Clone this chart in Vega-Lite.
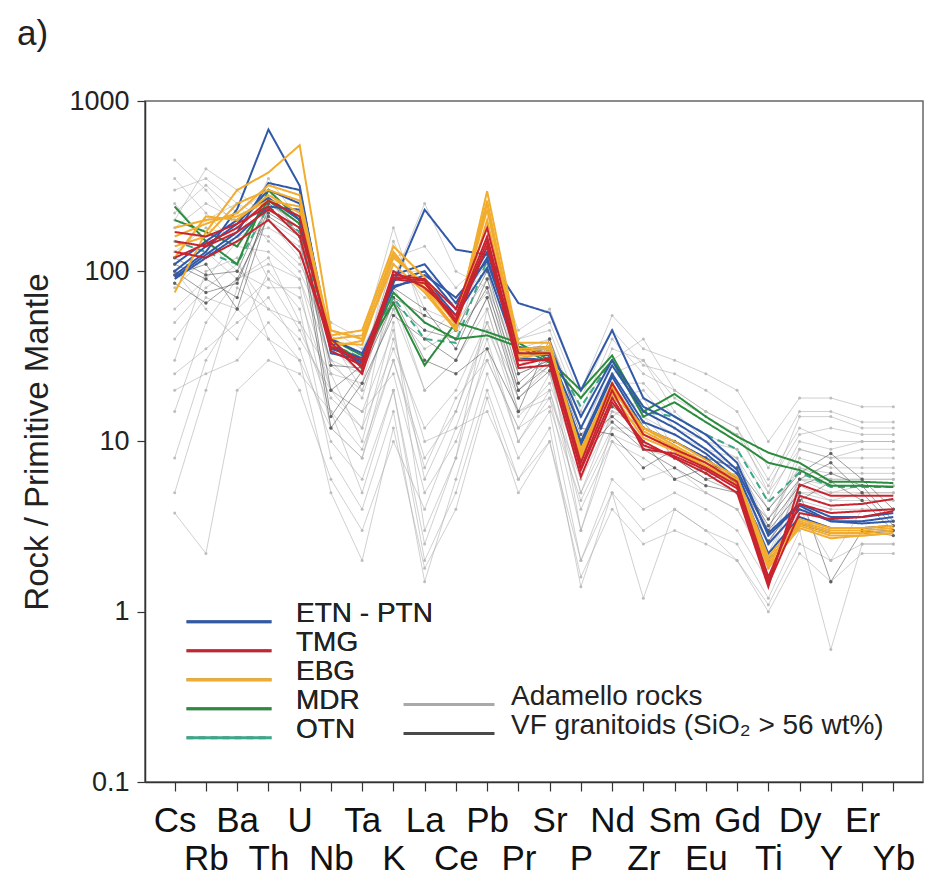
{
"$schema": "https://vega.github.io/schema/vega-lite/v6.json",
"autosize": "none",
"width": 778,
"height": 681,
"padding": {"left": 145, "top": 101, "right": 7, "bottom": 101},
"background": "white",
"config": {
  "font": "Liberation Sans",
  "view": {"stroke": "#666666", "strokeWidth": 1.5},
  "axis": {"grid": false, "domainColor": "#333333", "domainWidth": 1.5, "tickColor": "#333333", "tickWidth": 1.2, "labelColor": "#222222", "labelFont": "Liberation Sans", "titleFont": "Liberation Sans", "titleColor": "#222222", "titleFontWeight": "normal"},
  "legend": {"labelFont": "Liberation Sans", "labelColor": "#222222"}
},
"title": {"text": "a)", "anchor": "start", "frame": "group", "fontSize": 35, "fontWeight": "normal", "color": "#222222", "dx": -128, "offset": 35},
"data": {"values": [
{"g":"A","s":"A1","e":"Cs","v":300},{"g":"A","s":"A1","e":"Rb","v":350},{"g":"A","s":"A1","e":"Ba","v":250},{"g":"A","s":"A1","e":"Th","v":150},{"g":"A","s":"A1","e":"U","v":100},{"g":"A","s":"A1","e":"Nb","v":40},{"g":"A","s":"A1","e":"Ta","v":20},{"g":"A","s":"A1","e":"K","v":60},{"g":"A","s":"A1","e":"La","v":20},{"g":"A","s":"A1","e":"Ce","v":30},{"g":"A","s":"A1","e":"Pb","v":70},{"g":"A","s":"A1","e":"Pr","v":20},{"g":"A","s":"A1","e":"Sr","v":30},{"g":"A","s":"A1","e":"P","v":8},{"g":"A","s":"A1","e":"Nd","v":20},{"g":"A","s":"A1","e":"Zr","v":15},{"g":"A","s":"A1","e":"Sm","v":12},{"g":"A","s":"A1","e":"Eu","v":9},{"g":"A","s":"A1","e":"Gd","v":8},{"g":"A","s":"A1","e":"Ti","v":4},{"g":"A","s":"A1","e":"Dy","v":7},{"g":"A","s":"A1","e":"Y","v":6},{"g":"A","s":"A1","e":"Er","v":6},{"g":"A","s":"A1","e":"Yb","v":6},
{"g":"A","s":"A2","e":"Cs","v":30},{"g":"A","s":"A2","e":"Rb","v":100},{"g":"A","s":"A2","e":"Ba","v":120},{"g":"A","s":"A2","e":"Th","v":40},{"g":"A","s":"A2","e":"U","v":30},{"g":"A","s":"A2","e":"Nb","v":12},{"g":"A","s":"A2","e":"Ta","v":8},{"g":"A","s":"A2","e":"K","v":40},{"g":"A","s":"A2","e":"La","v":10},{"g":"A","s":"A2","e":"Ce","v":12},{"g":"A","s":"A2","e":"Pb","v":40},{"g":"A","s":"A2","e":"Pr","v":10},{"g":"A","s":"A2","e":"Sr","v":20},{"g":"A","s":"A2","e":"P","v":4},{"g":"A","s":"A2","e":"Nd","v":10},{"g":"A","s":"A2","e":"Zr","v":8},{"g":"A","s":"A2","e":"Sm","v":6},{"g":"A","s":"A2","e":"Eu","v":5},{"g":"A","s":"A2","e":"Gd","v":4},{"g":"A","s":"A2","e":"Ti","v":2},{"g":"A","s":"A2","e":"Dy","v":5},{"g":"A","s":"A2","e":"Y","v":5},{"g":"A","s":"A2","e":"Er","v":5},{"g":"A","s":"A2","e":"Yb","v":5},
{"g":"A","s":"A3","e":"Cs","v":5},{"g":"A","s":"A3","e":"Rb","v":20},{"g":"A","s":"A3","e":"Ba","v":80},{"g":"A","s":"A3","e":"Th","v":60},{"g":"A","s":"A3","e":"U","v":40},{"g":"A","s":"A3","e":"Nb","v":20},{"g":"A","s":"A3","e":"Ta","v":15},{"g":"A","s":"A3","e":"K","v":25},{"g":"A","s":"A3","e":"La","v":5},{"g":"A","s":"A3","e":"Ce","v":10},{"g":"A","s":"A3","e":"Pb","v":30},{"g":"A","s":"A3","e":"Pr","v":12},{"g":"A","s":"A3","e":"Sr","v":25},{"g":"A","s":"A3","e":"P","v":5},{"g":"A","s":"A3","e":"Nd","v":12},{"g":"A","s":"A3","e":"Zr","v":10},{"g":"A","s":"A3","e":"Sm","v":8},{"g":"A","s":"A3","e":"Eu","v":6},{"g":"A","s":"A3","e":"Gd","v":5},{"g":"A","s":"A3","e":"Ti","v":2.5},{"g":"A","s":"A3","e":"Dy","v":5},{"g":"A","s":"A3","e":"Y","v":4.5},{"g":"A","s":"A3","e":"Er","v":4.5},{"g":"A","s":"A3","e":"Yb","v":4.5},
{"g":"A","s":"A4","e":"Cs","v":200},{"g":"A","s":"A4","e":"Rb","v":400},{"g":"A","s":"A4","e":"Ba","v":300},{"g":"A","s":"A4","e":"Th","v":200},{"g":"A","s":"A4","e":"U","v":150},{"g":"A","s":"A4","e":"Nb","v":35},{"g":"A","s":"A4","e":"Ta","v":25},{"g":"A","s":"A4","e":"K","v":150},{"g":"A","s":"A4","e":"La","v":60},{"g":"A","s":"A4","e":"Ce","v":50},{"g":"A","s":"A4","e":"Pb","v":90},{"g":"A","s":"A4","e":"Pr","v":30},{"g":"A","s":"A4","e":"Sr","v":40},{"g":"A","s":"A4","e":"P","v":12},{"g":"A","s":"A4","e":"Nd","v":25},{"g":"A","s":"A4","e":"Zr","v":30},{"g":"A","s":"A4","e":"Sm","v":15},{"g":"A","s":"A4","e":"Eu","v":10},{"g":"A","s":"A4","e":"Gd","v":9},{"g":"A","s":"A4","e":"Ti","v":5},{"g":"A","s":"A4","e":"Dy","v":9},{"g":"A","s":"A4","e":"Y","v":8},{"g":"A","s":"A4","e":"Er","v":8},{"g":"A","s":"A4","e":"Yb","v":8},
{"g":"A","s":"A5","e":"Cs","v":100},{"g":"A","s":"A5","e":"Rb","v":60},{"g":"A","s":"A5","e":"Ba","v":40},{"g":"A","s":"A5","e":"Th","v":100},{"g":"A","s":"A5","e":"U","v":60},{"g":"A","s":"A5","e":"Nb","v":8},{"g":"A","s":"A5","e":"Ta","v":4},{"g":"A","s":"A5","e":"K","v":15},{"g":"A","s":"A5","e":"La","v":1.5},{"g":"A","s":"A5","e":"Ce","v":6},{"g":"A","s":"A5","e":"Pb","v":25},{"g":"A","s":"A5","e":"Pr","v":8},{"g":"A","s":"A5","e":"Sr","v":15},{"g":"A","s":"A5","e":"P","v":2},{"g":"A","s":"A5","e":"Nd","v":6},{"g":"A","s":"A5","e":"Zr","v":4},{"g":"A","s":"A5","e":"Sm","v":5},{"g":"A","s":"A5","e":"Eu","v":4},{"g":"A","s":"A5","e":"Gd","v":3},{"g":"A","s":"A5","e":"Ti","v":1.5},{"g":"A","s":"A5","e":"Dy","v":4},{"g":"A","s":"A5","e":"Y","v":2},{"g":"A","s":"A5","e":"Er","v":4},{"g":"A","s":"A5","e":"Yb","v":4},
{"g":"A","s":"A6","e":"Cs","v":60},{"g":"A","s":"A6","e":"Rb","v":90},{"g":"A","s":"A6","e":"Ba","v":150},{"g":"A","s":"A6","e":"Th","v":350},{"g":"A","s":"A6","e":"U","v":200},{"g":"A","s":"A6","e":"Nb","v":45},{"g":"A","s":"A6","e":"Ta","v":35},{"g":"A","s":"A6","e":"K","v":80},{"g":"A","s":"A6","e":"La","v":40},{"g":"A","s":"A6","e":"Ce","v":60},{"g":"A","s":"A6","e":"Pb","v":100},{"g":"A","s":"A6","e":"Pr","v":40},{"g":"A","s":"A6","e":"Sr","v":45},{"g":"A","s":"A6","e":"P","v":15},{"g":"A","s":"A6","e":"Nd","v":40},{"g":"A","s":"A6","e":"Zr","v":25},{"g":"A","s":"A6","e":"Sm","v":20},{"g":"A","s":"A6","e":"Eu","v":15},{"g":"A","s":"A6","e":"Gd","v":12},{"g":"A","s":"A6","e":"Ti","v":6},{"g":"A","s":"A6","e":"Dy","v":12},{"g":"A","s":"A6","e":"Y","v":10},{"g":"A","s":"A6","e":"Er","v":10},{"g":"A","s":"A6","e":"Yb","v":10},
{"g":"A","s":"A7","e":"Cs","v":15},{"g":"A","s":"A7","e":"Rb","v":50},{"g":"A","s":"A7","e":"Ba","v":90},{"g":"A","s":"A7","e":"Th","v":120},{"g":"A","s":"A7","e":"U","v":50},{"g":"A","s":"A7","e":"Nb","v":25},{"g":"A","s":"A7","e":"Ta","v":10},{"g":"A","s":"A7","e":"K","v":50},{"g":"A","s":"A7","e":"La","v":3},{"g":"A","s":"A7","e":"Ce","v":8},{"g":"A","s":"A7","e":"Pb","v":60},{"g":"A","s":"A7","e":"Pr","v":15},{"g":"A","s":"A7","e":"Sr","v":18},{"g":"A","s":"A7","e":"P","v":6},{"g":"A","s":"A7","e":"Nd","v":14},{"g":"A","s":"A7","e":"Zr","v":18},{"g":"A","s":"A7","e":"Sm","v":9},{"g":"A","s":"A7","e":"Eu","v":8},{"g":"A","s":"A7","e":"Gd","v":6},{"g":"A","s":"A7","e":"Ti","v":2},{"g":"A","s":"A7","e":"Dy","v":6},{"g":"A","s":"A7","e":"Y","v":6},{"g":"A","s":"A7","e":"Er","v":6},{"g":"A","s":"A7","e":"Yb","v":6},
{"g":"A","s":"A8","e":"Cs","v":250},{"g":"A","s":"A8","e":"Rb","v":150},{"g":"A","s":"A8","e":"Ba","v":100},{"g":"A","s":"A8","e":"Th","v":80},{"g":"A","s":"A8","e":"U","v":80},{"g":"A","s":"A8","e":"Nb","v":12},{"g":"A","s":"A8","e":"Ta","v":8},{"g":"A","s":"A8","e":"K","v":30},{"g":"A","s":"A8","e":"La","v":8},{"g":"A","s":"A8","e":"Ce","v":15},{"g":"A","s":"A8","e":"Pb","v":50},{"g":"A","s":"A8","e":"Pr","v":20},{"g":"A","s":"A8","e":"Sr","v":30},{"g":"A","s":"A8","e":"P","v":3},{"g":"A","s":"A8","e":"Nd","v":12},{"g":"A","s":"A8","e":"Zr","v":12},{"g":"A","s":"A8","e":"Sm","v":10},{"g":"A","s":"A8","e":"Eu","v":8},{"g":"A","s":"A8","e":"Gd","v":7},{"g":"A","s":"A8","e":"Ti","v":3},{"g":"A","s":"A8","e":"Dy","v":8},{"g":"A","s":"A8","e":"Y","v":7},{"g":"A","s":"A8","e":"Er","v":7},{"g":"A","s":"A8","e":"Yb","v":7},
{"g":"A","s":"A9","e":"Cs","v":3.8},{"g":"A","s":"A9","e":"Rb","v":2.2},{"g":"A","s":"A9","e":"Ba","v":20},{"g":"A","s":"A9","e":"Th","v":30},{"g":"A","s":"A9","e":"U","v":25},{"g":"A","s":"A9","e":"Nb","v":15},{"g":"A","s":"A9","e":"Ta","v":5},{"g":"A","s":"A9","e":"K","v":20},{"g":"A","s":"A9","e":"La","v":2},{"g":"A","s":"A9","e":"Ce","v":5},{"g":"A","s":"A9","e":"Pb","v":20},{"g":"A","s":"A9","e":"Pr","v":6},{"g":"A","s":"A9","e":"Sr","v":12},{"g":"A","s":"A9","e":"P","v":1.4},{"g":"A","s":"A9","e":"Nd","v":5},{"g":"A","s":"A9","e":"Zr","v":1.2},{"g":"A","s":"A9","e":"Sm","v":4},{"g":"A","s":"A9","e":"Eu","v":3},{"g":"A","s":"A9","e":"Gd","v":2.5},{"g":"A","s":"A9","e":"Ti","v":1.2},{"g":"A","s":"A9","e":"Dy","v":3},{"g":"A","s":"A9","e":"Y","v":0.6},{"g":"A","s":"A9","e":"Er","v":2.5},{"g":"A","s":"A9","e":"Yb","v":2.5},
{"g":"A","s":"A10","e":"Cs","v":180},{"g":"A","s":"A10","e":"Rb","v":250},{"g":"A","s":"A10","e":"Ba","v":200},{"g":"A","s":"A10","e":"Th","v":90},{"g":"A","s":"A10","e":"U","v":70},{"g":"A","s":"A10","e":"Nb","v":20},{"g":"A","s":"A10","e":"Ta","v":12},{"g":"A","s":"A10","e":"K","v":100},{"g":"A","s":"A10","e":"La","v":100},{"g":"A","s":"A10","e":"Ce","v":70},{"g":"A","s":"A10","e":"Pb","v":100},{"g":"A","s":"A10","e":"Pr","v":35},{"g":"A","s":"A10","e":"Sr","v":35},{"g":"A","s":"A10","e":"P","v":10},{"g":"A","s":"A10","e":"Nd","v":30},{"g":"A","s":"A10","e":"Zr","v":40},{"g":"A","s":"A10","e":"Sm","v":20},{"g":"A","s":"A10","e":"Eu","v":15},{"g":"A","s":"A10","e":"Gd","v":12},{"g":"A","s":"A10","e":"Ti","v":5},{"g":"A","s":"A10","e":"Dy","v":14},{"g":"A","s":"A10","e":"Y","v":14},{"g":"A","s":"A10","e":"Er","v":12},{"g":"A","s":"A10","e":"Yb","v":12},
{"g":"A","s":"A11","e":"Cs","v":40},{"g":"A","s":"A11","e":"Rb","v":70},{"g":"A","s":"A11","e":"Ba","v":60},{"g":"A","s":"A11","e":"Th","v":40},{"g":"A","s":"A11","e":"U","v":20},{"g":"A","s":"A11","e":"Nb","v":6},{"g":"A","s":"A11","e":"Ta","v":3},{"g":"A","s":"A11","e":"K","v":10},{"g":"A","s":"A11","e":"La","v":4},{"g":"A","s":"A11","e":"Ce","v":12},{"g":"A","s":"A11","e":"Pb","v":15},{"g":"A","s":"A11","e":"Pr","v":6},{"g":"A","s":"A11","e":"Sr","v":10},{"g":"A","s":"A11","e":"P","v":2},{"g":"A","s":"A11","e":"Nd","v":5},{"g":"A","s":"A11","e":"Zr","v":3},{"g":"A","s":"A11","e":"Sm","v":4},{"g":"A","s":"A11","e":"Eu","v":3},{"g":"A","s":"A11","e":"Gd","v":2},{"g":"A","s":"A11","e":"Ti","v":1.1},{"g":"A","s":"A11","e":"Dy","v":2.5},{"g":"A","s":"A11","e":"Y","v":2},{"g":"A","s":"A11","e":"Er","v":2.5},{"g":"A","s":"A11","e":"Yb","v":2.5},
{"g":"A","s":"A12","e":"Cs","v":120},{"g":"A","s":"A12","e":"Rb","v":200},{"g":"A","s":"A12","e":"Ba","v":250},{"g":"A","s":"A12","e":"Th","v":200},{"g":"A","s":"A12","e":"U","v":120},{"g":"A","s":"A12","e":"Nb","v":30},{"g":"A","s":"A12","e":"Ta","v":18},{"g":"A","s":"A12","e":"K","v":70},{"g":"A","s":"A12","e":"La","v":20},{"g":"A","s":"A12","e":"Ce","v":30},{"g":"A","s":"A12","e":"Pb","v":60},{"g":"A","s":"A12","e":"Pr","v":15},{"g":"A","s":"A12","e":"Sr","v":20},{"g":"A","s":"A12","e":"P","v":5},{"g":"A","s":"A12","e":"Nd","v":15},{"g":"A","s":"A12","e":"Zr","v":12},{"g":"A","s":"A12","e":"Sm","v":10},{"g":"A","s":"A12","e":"Eu","v":8},{"g":"A","s":"A12","e":"Gd","v":6},{"g":"A","s":"A12","e":"Ti","v":2.5},{"g":"A","s":"A12","e":"Dy","v":6},{"g":"A","s":"A12","e":"Y","v":5},{"g":"A","s":"A12","e":"Er","v":5.5},{"g":"A","s":"A12","e":"Yb","v":5.5},
{"g":"A","s":"A13","e":"Cs","v":80},{"g":"A","s":"A13","e":"Rb","v":120},{"g":"A","s":"A13","e":"Ba","v":180},{"g":"A","s":"A13","e":"Th","v":250},{"g":"A","s":"A13","e":"U","v":180},{"g":"A","s":"A13","e":"Nb","v":25},{"g":"A","s":"A13","e":"Ta","v":22},{"g":"A","s":"A13","e":"K","v":90},{"g":"A","s":"A13","e":"La","v":250},{"g":"A","s":"A13","e":"Ce","v":100},{"g":"A","s":"A13","e":"Pb","v":80},{"g":"A","s":"A13","e":"Pr","v":30},{"g":"A","s":"A13","e":"Sr","v":25},{"g":"A","s":"A13","e":"P","v":7},{"g":"A","s":"A13","e":"Nd","v":18},{"g":"A","s":"A13","e":"Zr","v":20},{"g":"A","s":"A13","e":"Sm","v":12},{"g":"A","s":"A13","e":"Eu","v":10},{"g":"A","s":"A13","e":"Gd","v":8},{"g":"A","s":"A13","e":"Ti","v":3},{"g":"A","s":"A13","e":"Dy","v":9},{"g":"A","s":"A13","e":"Y","v":8},{"g":"A","s":"A13","e":"Er","v":9},{"g":"A","s":"A13","e":"Yb","v":9},
{"g":"A","s":"A14","e":"Cs","v":25},{"g":"A","s":"A14","e":"Rb","v":35},{"g":"A","s":"A14","e":"Ba","v":50},{"g":"A","s":"A14","e":"Th","v":70},{"g":"A","s":"A14","e":"U","v":35},{"g":"A","s":"A14","e":"Nb","v":10},{"g":"A","s":"A14","e":"Ta","v":6},{"g":"A","s":"A14","e":"K","v":20},{"g":"A","s":"A14","e":"La","v":2.5},{"g":"A","s":"A14","e":"Ce","v":8},{"g":"A","s":"A14","e":"Pb","v":35},{"g":"A","s":"A14","e":"Pr","v":10},{"g":"A","s":"A14","e":"Sr","v":18},{"g":"A","s":"A14","e":"P","v":3},{"g":"A","s":"A14","e":"Nd","v":10},{"g":"A","s":"A14","e":"Zr","v":6},{"g":"A","s":"A14","e":"Sm","v":7},{"g":"A","s":"A14","e":"Eu","v":5},{"g":"A","s":"A14","e":"Gd","v":4},{"g":"A","s":"A14","e":"Ti","v":1.8},{"g":"A","s":"A14","e":"Dy","v":4.5},{"g":"A","s":"A14","e":"Y","v":4},{"g":"A","s":"A14","e":"Er","v":4},{"g":"A","s":"A14","e":"Yb","v":4},
{"g":"A","s":"A15","e":"Cs","v":450},{"g":"A","s":"A15","e":"Rb","v":300},{"g":"A","s":"A15","e":"Ba","v":180},{"g":"A","s":"A15","e":"Th","v":160},{"g":"A","s":"A15","e":"U","v":110},{"g":"A","s":"A15","e":"Nb","v":50},{"g":"A","s":"A15","e":"Ta","v":40},{"g":"A","s":"A15","e":"K","v":180},{"g":"A","s":"A15","e":"La","v":50},{"g":"A","s":"A15","e":"Ce","v":40},{"g":"A","s":"A15","e":"Pb","v":150},{"g":"A","s":"A15","e":"Pr","v":45},{"g":"A","s":"A15","e":"Sr","v":60},{"g":"A","s":"A15","e":"P","v":20},{"g":"A","s":"A15","e":"Nd","v":55},{"g":"A","s":"A15","e":"Zr","v":35},{"g":"A","s":"A15","e":"Sm","v":30},{"g":"A","s":"A15","e":"Eu","v":25},{"g":"A","s":"A15","e":"Gd","v":20},{"g":"A","s":"A15","e":"Ti","v":10},{"g":"A","s":"A15","e":"Dy","v":18},{"g":"A","s":"A15","e":"Y","v":18},{"g":"A","s":"A15","e":"Er","v":16},{"g":"A","s":"A15","e":"Yb","v":16},
{"g":"A","s":"A16","e":"Cs","v":150},{"g":"A","s":"A16","e":"Rb","v":130},{"g":"A","s":"A16","e":"Ba","v":90},{"g":"A","s":"A16","e":"Th","v":110},{"g":"A","s":"A16","e":"U","v":90},{"g":"A","s":"A16","e":"Nb","v":20},{"g":"A","s":"A16","e":"Ta","v":15},{"g":"A","s":"A16","e":"K","v":45},{"g":"A","s":"A16","e":"La","v":6},{"g":"A","s":"A16","e":"Ce","v":15},{"g":"A","s":"A16","e":"Pb","v":45},{"g":"A","s":"A16","e":"Pr","v":18},{"g":"A","s":"A16","e":"Sr","v":28},{"g":"A","s":"A16","e":"P","v":9},{"g":"A","s":"A16","e":"Nd","v":16},{"g":"A","s":"A16","e":"Zr","v":14},{"g":"A","s":"A16","e":"Sm","v":11},{"g":"A","s":"A16","e":"Eu","v":9},{"g":"A","s":"A16","e":"Gd","v":7},{"g":"A","s":"A16","e":"Ti","v":3.5},{"g":"A","s":"A16","e":"Dy","v":7},{"g":"A","s":"A16","e":"Y","v":6.5},{"g":"A","s":"A16","e":"Er","v":6.5},{"g":"A","s":"A16","e":"Yb","v":6.5},
{"g":"A","s":"A17","e":"Cs","v":8},{"g":"A","s":"A17","e":"Rb","v":30},{"g":"A","s":"A17","e":"Ba","v":60},{"g":"A","s":"A17","e":"Th","v":90},{"g":"A","s":"A17","e":"U","v":45},{"g":"A","s":"A17","e":"Nb","v":18},{"g":"A","s":"A17","e":"Ta","v":12},{"g":"A","s":"A17","e":"K","v":35},{"g":"A","s":"A17","e":"La","v":12},{"g":"A","s":"A17","e":"Ce","v":20},{"g":"A","s":"A17","e":"Pb","v":50},{"g":"A","s":"A17","e":"Pr","v":14},{"g":"A","s":"A17","e":"Sr","v":22},{"g":"A","s":"A17","e":"P","v":7},{"g":"A","s":"A17","e":"Nd","v":15},{"g":"A","s":"A17","e":"Zr","v":14},{"g":"A","s":"A17","e":"Sm","v":9},{"g":"A","s":"A17","e":"Eu","v":7},{"g":"A","s":"A17","e":"Gd","v":6},{"g":"A","s":"A17","e":"Ti","v":2.8},{"g":"A","s":"A17","e":"Dy","v":6},{"g":"A","s":"A17","e":"Y","v":5.5},{"g":"A","s":"A17","e":"Er","v":5.5},{"g":"A","s":"A17","e":"Yb","v":5.5},
{"g":"A","s":"A18","e":"Cs","v":350},{"g":"A","s":"A18","e":"Rb","v":220},{"g":"A","s":"A18","e":"Ba","v":140},{"g":"A","s":"A18","e":"Th","v":130},{"g":"A","s":"A18","e":"U","v":90},{"g":"A","s":"A18","e":"Nb","v":30},{"g":"A","s":"A18","e":"Ta","v":25},{"g":"A","s":"A18","e":"K","v":120},{"g":"A","s":"A18","e":"La","v":140},{"g":"A","s":"A18","e":"Ce","v":80},{"g":"A","s":"A18","e":"Pb","v":120},{"g":"A","s":"A18","e":"Pr","v":40},{"g":"A","s":"A18","e":"Sr","v":50},{"g":"A","s":"A18","e":"P","v":18},{"g":"A","s":"A18","e":"Nd","v":45},{"g":"A","s":"A18","e":"Zr","v":28},{"g":"A","s":"A18","e":"Sm","v":25},{"g":"A","s":"A18","e":"Eu","v":20},{"g":"A","s":"A18","e":"Gd","v":15},{"g":"A","s":"A18","e":"Ti","v":7},{"g":"A","s":"A18","e":"Dy","v":15},{"g":"A","s":"A18","e":"Y","v":15},{"g":"A","s":"A18","e":"Er","v":13},{"g":"A","s":"A18","e":"Yb","v":13},
{"g":"A","s":"A19","e":"Cs","v":20},{"g":"A","s":"A19","e":"Rb","v":25},{"g":"A","s":"A19","e":"Ba","v":30},{"g":"A","s":"A19","e":"Th","v":50},{"g":"A","s":"A19","e":"U","v":30},{"g":"A","s":"A19","e":"Nb","v":5},{"g":"A","s":"A19","e":"Ta","v":2},{"g":"A","s":"A19","e":"K","v":12},{"g":"A","s":"A19","e":"La","v":1.8},{"g":"A","s":"A19","e":"Ce","v":4},{"g":"A","s":"A19","e":"Pb","v":18},{"g":"A","s":"A19","e":"Pr","v":5},{"g":"A","s":"A19","e":"Sr","v":10},{"g":"A","s":"A19","e":"P","v":1.6},{"g":"A","s":"A19","e":"Nd","v":4},{"g":"A","s":"A19","e":"Zr","v":2.5},{"g":"A","s":"A19","e":"Sm","v":3},{"g":"A","s":"A19","e":"Eu","v":2.5},{"g":"A","s":"A19","e":"Gd","v":2},{"g":"A","s":"A19","e":"Ti","v":1},{"g":"A","s":"A19","e":"Dy","v":2.2},{"g":"A","s":"A19","e":"Y","v":1.5},{"g":"A","s":"A19","e":"Er","v":2.2},{"g":"A","s":"A19","e":"Yb","v":2.2},
{"g":"A","s":"A20","e":"Cs","v":130},{"g":"A","s":"A20","e":"Rb","v":180},{"g":"A","s":"A20","e":"Ba","v":160},{"g":"A","s":"A20","e":"Th","v":180},{"g":"A","s":"A20","e":"U","v":140},{"g":"A","s":"A20","e":"Nb","v":28},{"g":"A","s":"A20","e":"Ta","v":20},{"g":"A","s":"A20","e":"K","v":60},{"g":"A","s":"A20","e":"La","v":35},{"g":"A","s":"A20","e":"Ce","v":45},{"g":"A","s":"A20","e":"Pb","v":75},{"g":"A","s":"A20","e":"Pr","v":25},{"g":"A","s":"A20","e":"Sr","v":30},{"g":"A","s":"A20","e":"P","v":10},{"g":"A","s":"A20","e":"Nd","v":22},{"g":"A","s":"A20","e":"Zr","v":22},{"g":"A","s":"A20","e":"Sm","v":14},{"g":"A","s":"A20","e":"Eu","v":11},{"g":"A","s":"A20","e":"Gd","v":9},{"g":"A","s":"A20","e":"Ti","v":4.5},{"g":"A","s":"A20","e":"Dy","v":10},{"g":"A","s":"A20","e":"Y","v":9},{"g":"A","s":"A20","e":"Er","v":10},{"g":"A","s":"A20","e":"Yb","v":10},
{"g":"A","s":"A21","e":"Cs","v":50},{"g":"A","s":"A21","e":"Rb","v":80},{"g":"A","s":"A21","e":"Ba","v":110},{"g":"A","s":"A21","e":"Th","v":60},{"g":"A","s":"A21","e":"U","v":50},{"g":"A","s":"A21","e":"Nb","v":15},{"g":"A","s":"A21","e":"Ta","v":9},{"g":"A","s":"A21","e":"K","v":30},{"g":"A","s":"A21","e":"La","v":7},{"g":"A","s":"A21","e":"Ce","v":18},{"g":"A","s":"A21","e":"Pb","v":30},{"g":"A","s":"A21","e":"Pr","v":12},{"g":"A","s":"A21","e":"Sr","v":16},{"g":"A","s":"A21","e":"P","v":4.5},{"g":"A","s":"A21","e":"Nd","v":11},{"g":"A","s":"A21","e":"Zr","v":9},{"g":"A","s":"A21","e":"Sm","v":8},{"g":"A","s":"A21","e":"Eu","v":6},{"g":"A","s":"A21","e":"Gd","v":5},{"g":"A","s":"A21","e":"Ti","v":2.2},{"g":"A","s":"A21","e":"Dy","v":5.5},{"g":"A","s":"A21","e":"Y","v":4.5},{"g":"A","s":"A21","e":"Er","v":5},{"g":"A","s":"A21","e":"Yb","v":5},
{"g":"A","s":"A22","e":"Cs","v":220},{"g":"A","s":"A22","e":"Rb","v":320},{"g":"A","s":"A22","e":"Ba","v":220},{"g":"A","s":"A22","e":"Th","v":300},{"g":"A","s":"A22","e":"U","v":160},{"g":"A","s":"A22","e":"Nb","v":42},{"g":"A","s":"A22","e":"Ta","v":30},{"g":"A","s":"A22","e":"K","v":110},{"g":"A","s":"A22","e":"La","v":70},{"g":"A","s":"A22","e":"Ce","v":65},{"g":"A","s":"A22","e":"Pb","v":110},{"g":"A","s":"A22","e":"Pr","v":35},{"g":"A","s":"A22","e":"Sr","v":40},{"g":"A","s":"A22","e":"P","v":14},{"g":"A","s":"A22","e":"Nd","v":35},{"g":"A","s":"A22","e":"Zr","v":30},{"g":"A","s":"A22","e":"Sm","v":18},{"g":"A","s":"A22","e":"Eu","v":14},{"g":"A","s":"A22","e":"Gd","v":11},{"g":"A","s":"A22","e":"Ti","v":5.5},{"g":"A","s":"A22","e":"Dy","v":11},{"g":"A","s":"A22","e":"Y","v":12},{"g":"A","s":"A22","e":"Er","v":11},{"g":"A","s":"A22","e":"Yb","v":11},
{"g":"V","s":"V1","e":"Cs","v":95},{"g":"V","s":"V1","e":"Rb","v":110},{"g":"V","s":"V1","e":"Ba","v":60},{"g":"V","s":"V1","e":"Th","v":220},{"g":"V","s":"V1","e":"U","v":170},{"g":"V","s":"V1","e":"Nb","v":28},{"g":"V","s":"V1","e":"Ta","v":27},{"g":"V","s":"V1","e":"K","v":70},{"g":"V","s":"V1","e":"La","v":30},{"g":"V","s":"V1","e":"Ce","v":25},{"g":"V","s":"V1","e":"Pb","v":35},{"g":"V","s":"V1","e":"Pr","v":15},{"g":"V","s":"V1","e":"Sr","v":40},{"g":"V","s":"V1","e":"P","v":12},{"g":"V","s":"V1","e":"Nd","v":11},{"g":"V","s":"V1","e":"Zr","v":7},{"g":"V","s":"V1","e":"Sm","v":9},{"g":"V","s":"V1","e":"Eu","v":6.5},{"g":"V","s":"V1","e":"Gd","v":6},{"g":"V","s":"V1","e":"Ti","v":3},{"g":"V","s":"V1","e":"Dy","v":5},{"g":"V","s":"V1","e":"Y","v":1.5},{"g":"V","s":"V1","e":"Er","v":3},{"g":"V","s":"V1","e":"Yb","v":2.8},
{"g":"V","s":"V2","e":"Cs","v":110},{"g":"V","s":"V2","e":"Rb","v":90},{"g":"V","s":"V2","e":"Ba","v":70},{"g":"V","s":"V2","e":"Th","v":260},{"g":"V","s":"V2","e":"U","v":200},{"g":"V","s":"V2","e":"Nb","v":20},{"g":"V","s":"V2","e":"Ta","v":28},{"g":"V","s":"V2","e":"K","v":70},{"g":"V","s":"V2","e":"La","v":55},{"g":"V","s":"V2","e":"Ce","v":45},{"g":"V","s":"V2","e":"Pb","v":100},{"g":"V","s":"V2","e":"Pr","v":25},{"g":"V","s":"V2","e":"Sr","v":30},{"g":"V","s":"V2","e":"P","v":10},{"g":"V","s":"V2","e":"Nd","v":14},{"g":"V","s":"V2","e":"Zr","v":10},{"g":"V","s":"V2","e":"Sm","v":6},{"g":"V","s":"V2","e":"Eu","v":7},{"g":"V","s":"V2","e":"Gd","v":5.5},{"g":"V","s":"V2","e":"Ti","v":3.5},{"g":"V","s":"V2","e":"Dy","v":6},{"g":"V","s":"V2","e":"Y","v":7.5},{"g":"V","s":"V2","e":"Er","v":5},{"g":"V","s":"V2","e":"Yb","v":3.2},
{"g":"V","s":"V3","e":"Cs","v":100},{"g":"V","s":"V3","e":"Rb","v":75},{"g":"V","s":"V3","e":"Ba","v":85},{"g":"V","s":"V3","e":"Th","v":230},{"g":"V","s":"V3","e":"U","v":180},{"g":"V","s":"V3","e":"Nb","v":14},{"g":"V","s":"V3","e":"Ta","v":26},{"g":"V","s":"V3","e":"K","v":65},{"g":"V","s":"V3","e":"La","v":45},{"g":"V","s":"V3","e":"Ce","v":40},{"g":"V","s":"V3","e":"Pb","v":80},{"g":"V","s":"V3","e":"Pr","v":20},{"g":"V","s":"V3","e":"Sr","v":28},{"g":"V","s":"V3","e":"P","v":9},{"g":"V","s":"V3","e":"Nd","v":18},{"g":"V","s":"V3","e":"Zr","v":13},{"g":"V","s":"V3","e":"Sm","v":8},{"g":"V","s":"V3","e":"Eu","v":6},{"g":"V","s":"V3","e":"Gd","v":6.5},{"g":"V","s":"V3","e":"Ti","v":3.2},{"g":"V","s":"V3","e":"Dy","v":5.5},{"g":"V","s":"V3","e":"Y","v":6.5},{"g":"V","s":"V3","e":"Er","v":5.5},{"g":"V","s":"V3","e":"Yb","v":3.4},
{"g":"V","s":"V4","e":"Cs","v":120},{"g":"V","s":"V4","e":"Rb","v":95},{"g":"V","s":"V4","e":"Ba","v":100},{"g":"V","s":"V4","e":"Th","v":250},{"g":"V","s":"V4","e":"U","v":190},{"g":"V","s":"V4","e":"Nb","v":35},{"g":"V","s":"V4","e":"Ta","v":30},{"g":"V","s":"V4","e":"K","v":80},{"g":"V","s":"V4","e":"La","v":60},{"g":"V","s":"V4","e":"Ce","v":35},{"g":"V","s":"V4","e":"Pb","v":90},{"g":"V","s":"V4","e":"Pr","v":22},{"g":"V","s":"V4","e":"Sr","v":32},{"g":"V","s":"V4","e":"P","v":11},{"g":"V","s":"V4","e":"Nd","v":16},{"g":"V","s":"V4","e":"Zr","v":12},{"g":"V","s":"V4","e":"Sm","v":10},{"g":"V","s":"V4","e":"Eu","v":8},{"g":"V","s":"V4","e":"Gd","v":7},{"g":"V","s":"V4","e":"Ti","v":4},{"g":"V","s":"V4","e":"Dy","v":6.5},{"g":"V","s":"V4","e":"Y","v":8.5},{"g":"V","s":"V4","e":"Er","v":6},{"g":"V","s":"V4","e":"Yb","v":4},
{"g":"V","s":"V5","e":"Cs","v":85},{"g":"V","s":"V5","e":"Rb","v":65},{"g":"V","s":"V5","e":"Ba","v":90},{"g":"V","s":"V5","e":"Th","v":210},{"g":"V","s":"V5","e":"U","v":160},{"g":"V","s":"V5","e":"Nb","v":12},{"g":"V","s":"V5","e":"Ta","v":22},{"g":"V","s":"V5","e":"K","v":55},{"g":"V","s":"V5","e":"La","v":40},{"g":"V","s":"V5","e":"Ce","v":30},{"g":"V","s":"V5","e":"Pb","v":70},{"g":"V","s":"V5","e":"Pr","v":18},{"g":"V","s":"V5","e":"Sr","v":26},{"g":"V","s":"V5","e":"P","v":8},{"g":"V","s":"V5","e":"Nd","v":13},{"g":"V","s":"V5","e":"Zr","v":9},{"g":"V","s":"V5","e":"Sm","v":7},{"g":"V","s":"V5","e":"Eu","v":5.5},{"g":"V","s":"V5","e":"Gd","v":5},{"g":"V","s":"V5","e":"Ti","v":2.6},{"g":"V","s":"V5","e":"Dy","v":4.5},{"g":"V","s":"V5","e":"Y","v":5.8},{"g":"V","s":"V5","e":"Er","v":4.5},{"g":"V","s":"V5","e":"Yb","v":3},
{"g":"O","s":"O1","e":"Cs","v":150},{"g":"O","s":"O1","e":"Rb","v":130},{"g":"O","s":"O1","e":"Ba","v":110},{"g":"O","s":"O1","e":"Th","v":240},{"g":"O","s":"O1","e":"U","v":170},{"g":"O","s":"O1","e":"Nb","v":37},{"g":"O","s":"O1","e":"Ta","v":31},{"g":"O","s":"O1","e":"K","v":70},{"g":"O","s":"O1","e":"La","v":40},{"g":"O","s":"O1","e":"Ce","v":38},{"g":"O","s":"O1","e":"Pb","v":117},{"g":"O","s":"O1","e":"Pr","v":36},{"g":"O","s":"O1","e":"Sr","v":34},{"g":"O","s":"O1","e":"P","v":16},{"g":"O","s":"O1","e":"Nd","v":30},{"g":"O","s":"O1","e":"Zr","v":15},{"g":"O","s":"O1","e":"Sm","v":14},{"g":"O","s":"O1","e":"Eu","v":11},{"g":"O","s":"O1","e":"Gd","v":9},{"g":"O","s":"O1","e":"Ti","v":4.4},{"g":"O","s":"O1","e":"Dy","v":6.6},{"g":"O","s":"O1","e":"Y","v":5.4},{"g":"O","s":"O1","e":"Er","v":5.4},{"g":"O","s":"O1","e":"Yb","v":5.4},
{"g":"M","s":"M1","e":"Cs","v":240},{"g":"M","s":"M1","e":"Rb","v":150},{"g":"M","s":"M1","e":"Ba","v":110},{"g":"M","s":"M1","e":"Th","v":300},{"g":"M","s":"M1","e":"U","v":200},{"g":"M","s":"M1","e":"Nb","v":40},{"g":"M","s":"M1","e":"Ta","v":32},{"g":"M","s":"M1","e":"K","v":65},{"g":"M","s":"M1","e":"La","v":28},{"g":"M","s":"M1","e":"Ce","v":50},{"g":"M","s":"M1","e":"Pb","v":44},{"g":"M","s":"M1","e":"Pr","v":38},{"g":"M","s":"M1","e":"Sr","v":30},{"g":"M","s":"M1","e":"P","v":20},{"g":"M","s":"M1","e":"Nd","v":32},{"g":"M","s":"M1","e":"Zr","v":15},{"g":"M","s":"M1","e":"Sm","v":19},{"g":"M","s":"M1","e":"Eu","v":14},{"g":"M","s":"M1","e":"Gd","v":10.7},{"g":"M","s":"M1","e":"Ti","v":8.6},{"g":"M","s":"M1","e":"Dy","v":7.5},{"g":"M","s":"M1","e":"Y","v":5.8},{"g":"M","s":"M1","e":"Er","v":5.8},{"g":"M","s":"M1","e":"Yb","v":5.7},
{"g":"M","s":"M2","e":"Cs","v":200},{"g":"M","s":"M2","e":"Rb","v":170},{"g":"M","s":"M2","e":"Ba","v":140},{"g":"M","s":"M2","e":"Th","v":260},{"g":"M","s":"M2","e":"U","v":190},{"g":"M","s":"M2","e":"Nb","v":38},{"g":"M","s":"M2","e":"Ta","v":30},{"g":"M","s":"M2","e":"K","v":75},{"g":"M","s":"M2","e":"La","v":50},{"g":"M","s":"M2","e":"Ce","v":40},{"g":"M","s":"M2","e":"Pb","v":42},{"g":"M","s":"M2","e":"Pr","v":36},{"g":"M","s":"M2","e":"Sr","v":29},{"g":"M","s":"M2","e":"P","v":18},{"g":"M","s":"M2","e":"Nd","v":30},{"g":"M","s":"M2","e":"Zr","v":14},{"g":"M","s":"M2","e":"Sm","v":17},{"g":"M","s":"M2","e":"Eu","v":13},{"g":"M","s":"M2","e":"Gd","v":10},{"g":"M","s":"M2","e":"Ti","v":7.5},{"g":"M","s":"M2","e":"Dy","v":6.8},{"g":"M","s":"M2","e":"Y","v":5.5},{"g":"M","s":"M2","e":"Er","v":5.5},{"g":"M","s":"M2","e":"Yb","v":5.4},
{"g":"E","s":"E1","e":"Cs","v":95},{"g":"E","s":"E1","e":"Rb","v":130},{"g":"E","s":"E1","e":"Ba","v":232},{"g":"E","s":"E1","e":"Th","v":680},{"g":"E","s":"E1","e":"U","v":318},{"g":"E","s":"E1","e":"Nb","v":33},{"g":"E","s":"E1","e":"Ta","v":30},{"g":"E","s":"E1","e":"K","v":85},{"g":"E","s":"E1","e":"La","v":230},{"g":"E","s":"E1","e":"Ce","v":134},{"g":"E","s":"E1","e":"Pb","v":125},{"g":"E","s":"E1","e":"Pr","v":65},{"g":"E","s":"E1","e":"Sr","v":57},{"g":"E","s":"E1","e":"P","v":20},{"g":"E","s":"E1","e":"Nd","v":45},{"g":"E","s":"E1","e":"Zr","v":18},{"g":"E","s":"E1","e":"Sm","v":14},{"g":"E","s":"E1","e":"Eu","v":11},{"g":"E","s":"E1","e":"Gd","v":7.5},{"g":"E","s":"E1","e":"Ti","v":2.8},{"g":"E","s":"E1","e":"Dy","v":4.2},{"g":"E","s":"E1","e":"Y","v":3.4},{"g":"E","s":"E1","e":"Er","v":3.4},{"g":"E","s":"E1","e":"Yb","v":3.6},
{"g":"E","s":"E2","e":"Cs","v":92},{"g":"E","s":"E2","e":"Rb","v":125},{"g":"E","s":"E2","e":"Ba","v":170},{"g":"E","s":"E2","e":"Th","v":330},{"g":"E","s":"E2","e":"U","v":300},{"g":"E","s":"E2","e":"Nb","v":38},{"g":"E","s":"E2","e":"Ta","v":28},{"g":"E","s":"E2","e":"K","v":95},{"g":"E","s":"E2","e":"La","v":110},{"g":"E","s":"E2","e":"Ce","v":65},{"g":"E","s":"E2","e":"Pb","v":130},{"g":"E","s":"E2","e":"Pr","v":36},{"g":"E","s":"E2","e":"Sr","v":33},{"g":"E","s":"E2","e":"P","v":12},{"g":"E","s":"E2","e":"Nd","v":28},{"g":"E","s":"E2","e":"Zr","v":15},{"g":"E","s":"E2","e":"Sm","v":12},{"g":"E","s":"E2","e":"Eu","v":9},{"g":"E","s":"E2","e":"Gd","v":6.5},{"g":"E","s":"E2","e":"Ti","v":2.5},{"g":"E","s":"E2","e":"Dy","v":4},{"g":"E","s":"E2","e":"Y","v":3.4},{"g":"E","s":"E2","e":"Er","v":3.3},{"g":"E","s":"E2","e":"Yb","v":3.4},
{"g":"E","s":"E3","e":"Cs","v":100},{"g":"E","s":"E3","e":"Rb","v":140},{"g":"E","s":"E3","e":"Ba","v":190},{"g":"E","s":"E3","e":"Th","v":300},{"g":"E","s":"E3","e":"U","v":250},{"g":"E","s":"E3","e":"Nb","v":35},{"g":"E","s":"E3","e":"Ta","v":31},{"g":"E","s":"E3","e":"K","v":88},{"g":"E","s":"E3","e":"La","v":100},{"g":"E","s":"E3","e":"Ce","v":60},{"g":"E","s":"E3","e":"Pb","v":120},{"g":"E","s":"E3","e":"Pr","v":33},{"g":"E","s":"E3","e":"Sr","v":32},{"g":"E","s":"E3","e":"P","v":10},{"g":"E","s":"E3","e":"Nd","v":25},{"g":"E","s":"E3","e":"Zr","v":13},{"g":"E","s":"E3","e":"Sm","v":11},{"g":"E","s":"E3","e":"Eu","v":8.5},{"g":"E","s":"E3","e":"Gd","v":6},{"g":"E","s":"E3","e":"Ti","v":2.2},{"g":"E","s":"E3","e":"Dy","v":3.6},{"g":"E","s":"E3","e":"Y","v":3.1},{"g":"E","s":"E3","e":"Er","v":3.1},{"g":"E","s":"E3","e":"Yb","v":3.2},
{"g":"E","s":"E4","e":"Cs","v":110},{"g":"E","s":"E4","e":"Rb","v":150},{"g":"E","s":"E4","e":"Ba","v":200},{"g":"E","s":"E4","e":"Th","v":270},{"g":"E","s":"E4","e":"U","v":200},{"g":"E","s":"E4","e":"Nb","v":40},{"g":"E","s":"E4","e":"Ta","v":33},{"g":"E","s":"E4","e":"K","v":80},{"g":"E","s":"E4","e":"La","v":95},{"g":"E","s":"E4","e":"Ce","v":70},{"g":"E","s":"E4","e":"Pb","v":115},{"g":"E","s":"E4","e":"Pr","v":35},{"g":"E","s":"E4","e":"Sr","v":36},{"g":"E","s":"E4","e":"P","v":14},{"g":"E","s":"E4","e":"Nd","v":30},{"g":"E","s":"E4","e":"Zr","v":16},{"g":"E","s":"E4","e":"Sm","v":13},{"g":"E","s":"E4","e":"Eu","v":10},{"g":"E","s":"E4","e":"Gd","v":6.8},{"g":"E","s":"E4","e":"Ti","v":2.9},{"g":"E","s":"E4","e":"Dy","v":4.3},{"g":"E","s":"E4","e":"Y","v":3.6},{"g":"E","s":"E4","e":"Er","v":3.6},{"g":"E","s":"E4","e":"Yb","v":3.8},
{"g":"E","s":"E5","e":"Cs","v":90},{"g":"E","s":"E5","e":"Rb","v":120},{"g":"E","s":"E5","e":"Ba","v":160},{"g":"E","s":"E5","e":"Th","v":240},{"g":"E","s":"E5","e":"U","v":230},{"g":"E","s":"E5","e":"Nb","v":36},{"g":"E","s":"E5","e":"Ta","v":29},{"g":"E","s":"E5","e":"K","v":82},{"g":"E","s":"E5","e":"La","v":90},{"g":"E","s":"E5","e":"Ce","v":55},{"g":"E","s":"E5","e":"Pb","v":105},{"g":"E","s":"E5","e":"Pr","v":31},{"g":"E","s":"E5","e":"Sr","v":30},{"g":"E","s":"E5","e":"P","v":9.5},{"g":"E","s":"E5","e":"Nd","v":24},{"g":"E","s":"E5","e":"Zr","v":12},{"g":"E","s":"E5","e":"Sm","v":10},{"g":"E","s":"E5","e":"Eu","v":8},{"g":"E","s":"E5","e":"Gd","v":5.6},{"g":"E","s":"E5","e":"Ti","v":2},{"g":"E","s":"E5","e":"Dy","v":3.3},{"g":"E","s":"E5","e":"Y","v":2.9},{"g":"E","s":"E5","e":"Er","v":2.9},{"g":"E","s":"E5","e":"Yb","v":3},
{"g":"B","s":"B1","e":"Cs","v":75},{"g":"B","s":"B1","e":"Rb","v":170},{"g":"B","s":"B1","e":"Ba","v":300},{"g":"B","s":"B1","e":"Th","v":380},{"g":"B","s":"B1","e":"U","v":550},{"g":"B","s":"B1","e":"Nb","v":45},{"g":"B","s":"B1","e":"Ta","v":40},{"g":"B","s":"B1","e":"K","v":110},{"g":"B","s":"B1","e":"La","v":75},{"g":"B","s":"B1","e":"Ce","v":45},{"g":"B","s":"B1","e":"Pb","v":250},{"g":"B","s":"B1","e":"Pr","v":35},{"g":"B","s":"B1","e":"Sr","v":36},{"g":"B","s":"B1","e":"P","v":8},{"g":"B","s":"B1","e":"Nd","v":21},{"g":"B","s":"B1","e":"Zr","v":11},{"g":"B","s":"B1","e":"Sm","v":9},{"g":"B","s":"B1","e":"Eu","v":7},{"g":"B","s":"B1","e":"Gd","v":5.5},{"g":"B","s":"B1","e":"Ti","v":1.8},{"g":"B","s":"B1","e":"Dy","v":3.2},{"g":"B","s":"B1","e":"Y","v":2.8},{"g":"B","s":"B1","e":"Er","v":2.8},{"g":"B","s":"B1","e":"Yb","v":2.9},
{"g":"B","s":"B2","e":"Cs","v":140},{"g":"B","s":"B2","e":"Rb","v":160},{"g":"B","s":"B2","e":"Ba","v":250},{"g":"B","s":"B2","e":"Th","v":300},{"g":"B","s":"B2","e":"U","v":260},{"g":"B","s":"B2","e":"Nb","v":42},{"g":"B","s":"B2","e":"Ta","v":45},{"g":"B","s":"B2","e":"K","v":140},{"g":"B","s":"B2","e":"La","v":92},{"g":"B","s":"B2","e":"Ce","v":48},{"g":"B","s":"B2","e":"Pb","v":295},{"g":"B","s":"B2","e":"Pr","v":38},{"g":"B","s":"B2","e":"Sr","v":38},{"g":"B","s":"B2","e":"P","v":8.5},{"g":"B","s":"B2","e":"Nd","v":20},{"g":"B","s":"B2","e":"Zr","v":12},{"g":"B","s":"B2","e":"Sm","v":9.5},{"g":"B","s":"B2","e":"Eu","v":7.5},{"g":"B","s":"B2","e":"Gd","v":6},{"g":"B","s":"B2","e":"Ti","v":1.9},{"g":"B","s":"B2","e":"Dy","v":3.4},{"g":"B","s":"B2","e":"Y","v":3},{"g":"B","s":"B2","e":"Er","v":3},{"g":"B","s":"B2","e":"Yb","v":3.1},
{"g":"B","s":"B3","e":"Cs","v":160},{"g":"B","s":"B3","e":"Rb","v":190},{"g":"B","s":"B3","e":"Ba","v":220},{"g":"B","s":"B3","e":"Th","v":320},{"g":"B","s":"B3","e":"U","v":280},{"g":"B","s":"B3","e":"Nb","v":38},{"g":"B","s":"B3","e":"Ta","v":37},{"g":"B","s":"B3","e":"K","v":125},{"g":"B","s":"B3","e":"La","v":80},{"g":"B","s":"B3","e":"Ce","v":50},{"g":"B","s":"B3","e":"Pb","v":230},{"g":"B","s":"B3","e":"Pr","v":34},{"g":"B","s":"B3","e":"Sr","v":35},{"g":"B","s":"B3","e":"P","v":9},{"g":"B","s":"B3","e":"Nd","v":22},{"g":"B","s":"B3","e":"Zr","v":11.5},{"g":"B","s":"B3","e":"Sm","v":9.2},{"g":"B","s":"B3","e":"Eu","v":7.2},{"g":"B","s":"B3","e":"Gd","v":5.8},{"g":"B","s":"B3","e":"Ti","v":2},{"g":"B","s":"B3","e":"Dy","v":3.3},{"g":"B","s":"B3","e":"Y","v":2.9},{"g":"B","s":"B3","e":"Er","v":2.9},{"g":"B","s":"B3","e":"Yb","v":3},
{"g":"B","s":"B4","e":"Cs","v":180},{"g":"B","s":"B4","e":"Rb","v":200},{"g":"B","s":"B4","e":"Ba","v":210},{"g":"B","s":"B4","e":"Th","v":260},{"g":"B","s":"B4","e":"U","v":240},{"g":"B","s":"B4","e":"Nb","v":40},{"g":"B","s":"B4","e":"Ta","v":42},{"g":"B","s":"B4","e":"K","v":130},{"g":"B","s":"B4","e":"La","v":78},{"g":"B","s":"B4","e":"Ce","v":46},{"g":"B","s":"B4","e":"Pb","v":200},{"g":"B","s":"B4","e":"Pr","v":32},{"g":"B","s":"B4","e":"Sr","v":34},{"g":"B","s":"B4","e":"P","v":8.8},{"g":"B","s":"B4","e":"Nd","v":21},{"g":"B","s":"B4","e":"Zr","v":12},{"g":"B","s":"B4","e":"Sm","v":10},{"g":"B","s":"B4","e":"Eu","v":7.8},{"g":"B","s":"B4","e":"Gd","v":6.2},{"g":"B","s":"B4","e":"Ti","v":2.1},{"g":"B","s":"B4","e":"Dy","v":3.5},{"g":"B","s":"B4","e":"Y","v":3.1},{"g":"B","s":"B4","e":"Er","v":3.1},{"g":"B","s":"B4","e":"Yb","v":3.2},
{"g":"B","s":"B5","e":"Cs","v":120},{"g":"B","s":"B5","e":"Rb","v":210},{"g":"B","s":"B5","e":"Ba","v":200},{"g":"B","s":"B5","e":"Th","v":280},{"g":"B","s":"B5","e":"U","v":220},{"g":"B","s":"B5","e":"Nb","v":36},{"g":"B","s":"B5","e":"Ta","v":39},{"g":"B","s":"B5","e":"K","v":120},{"g":"B","s":"B5","e":"La","v":85},{"g":"B","s":"B5","e":"Ce","v":52},{"g":"B","s":"B5","e":"Pb","v":260},{"g":"B","s":"B5","e":"Pr","v":31},{"g":"B","s":"B5","e":"Sr","v":33},{"g":"B","s":"B5","e":"P","v":8.2},{"g":"B","s":"B5","e":"Nd","v":19},{"g":"B","s":"B5","e":"Zr","v":10.5},{"g":"B","s":"B5","e":"Sm","v":8.8},{"g":"B","s":"B5","e":"Eu","v":7},{"g":"B","s":"B5","e":"Gd","v":5.6},{"g":"B","s":"B5","e":"Ti","v":1.85},{"g":"B","s":"B5","e":"Dy","v":3.1},{"g":"B","s":"B5","e":"Y","v":2.7},{"g":"B","s":"B5","e":"Er","v":2.8},{"g":"B","s":"B5","e":"Yb","v":2.9},
{"g":"T","s":"T1","e":"Cs","v":130},{"g":"T","s":"T1","e":"Rb","v":120},{"g":"T","s":"T1","e":"Ba","v":150},{"g":"T","s":"T1","e":"Th","v":200},{"g":"T","s":"T1","e":"U","v":130},{"g":"T","s":"T1","e":"Nb","v":38},{"g":"T","s":"T1","e":"Ta","v":25},{"g":"T","s":"T1","e":"K","v":90},{"g":"T","s":"T1","e":"La","v":85},{"g":"T","s":"T1","e":"Ce","v":50},{"g":"T","s":"T1","e":"Pb","v":140},{"g":"T","s":"T1","e":"Pr","v":27},{"g":"T","s":"T1","e":"Sr","v":28},{"g":"T","s":"T1","e":"P","v":6.2},{"g":"T","s":"T1","e":"Nd","v":17},{"g":"T","s":"T1","e":"Zr","v":10},{"g":"T","s":"T1","e":"Sm","v":8},{"g":"T","s":"T1","e":"Eu","v":6.5},{"g":"T","s":"T1","e":"Gd","v":5},{"g":"T","s":"T1","e":"Ti","v":1.4},{"g":"T","s":"T1","e":"Dy","v":5.6},{"g":"T","s":"T1","e":"Y","v":4.8},{"g":"T","s":"T1","e":"Er","v":4.8},{"g":"T","s":"T1","e":"Yb","v":4.8},
{"g":"T","s":"T2","e":"Cs","v":150},{"g":"T","s":"T2","e":"Rb","v":140},{"g":"T","s":"T2","e":"Ba","v":170},{"g":"T","s":"T2","e":"Th","v":230},{"g":"T","s":"T2","e":"U","v":180},{"g":"T","s":"T2","e":"Nb","v":40},{"g":"T","s":"T2","e":"Ta","v":27},{"g":"T","s":"T2","e":"K","v":100},{"g":"T","s":"T2","e":"La","v":80},{"g":"T","s":"T2","e":"Ce","v":55},{"g":"T","s":"T2","e":"Pb","v":160},{"g":"T","s":"T2","e":"Pr","v":30},{"g":"T","s":"T2","e":"Sr","v":30},{"g":"T","s":"T2","e":"P","v":7},{"g":"T","s":"T2","e":"Nd","v":20},{"g":"T","s":"T2","e":"Zr","v":9},{"g":"T","s":"T2","e":"Sm","v":8.5},{"g":"T","s":"T2","e":"Eu","v":7},{"g":"T","s":"T2","e":"Gd","v":5.5},{"g":"T","s":"T2","e":"Ti","v":1.5},{"g":"T","s":"T2","e":"Dy","v":4.8},{"g":"T","s":"T2","e":"Y","v":4.2},{"g":"T","s":"T2","e":"Er","v":4.3},{"g":"T","s":"T2","e":"Yb","v":4.6},
{"g":"T","s":"T3","e":"Cs","v":120},{"g":"T","s":"T3","e":"Rb","v":145},{"g":"T","s":"T3","e":"Ba","v":180},{"g":"T","s":"T3","e":"Th","v":260},{"g":"T","s":"T3","e":"U","v":210},{"g":"T","s":"T3","e":"Nb","v":36},{"g":"T","s":"T3","e":"Ta","v":30},{"g":"T","s":"T3","e":"K","v":95},{"g":"T","s":"T3","e":"La","v":90},{"g":"T","s":"T3","e":"Ce","v":60},{"g":"T","s":"T3","e":"Pb","v":180},{"g":"T","s":"T3","e":"Pr","v":33},{"g":"T","s":"T3","e":"Sr","v":33},{"g":"T","s":"T3","e":"P","v":7.5},{"g":"T","s":"T3","e":"Nd","v":22},{"g":"T","s":"T3","e":"Zr","v":11},{"g":"T","s":"T3","e":"Sm","v":9},{"g":"T","s":"T3","e":"Eu","v":7.5},{"g":"T","s":"T3","e":"Gd","v":5.8},{"g":"T","s":"T3","e":"Ti","v":1.6},{"g":"T","s":"T3","e":"Dy","v":4.3},{"g":"T","s":"T3","e":"Y","v":3.8},{"g":"T","s":"T3","e":"Er","v":3.9},{"g":"T","s":"T3","e":"Yb","v":4},
{"g":"T","s":"T4","e":"Cs","v":170},{"g":"T","s":"T4","e":"Rb","v":160},{"g":"T","s":"T4","e":"Ba","v":190},{"g":"T","s":"T4","e":"Th","v":240},{"g":"T","s":"T4","e":"U","v":160},{"g":"T","s":"T4","e":"Nb","v":34},{"g":"T","s":"T4","e":"Ta","v":28},{"g":"T","s":"T4","e":"K","v":92},{"g":"T","s":"T4","e":"La","v":88},{"g":"T","s":"T4","e":"Ce","v":52},{"g":"T","s":"T4","e":"Pb","v":150},{"g":"T","s":"T4","e":"Pr","v":28},{"g":"T","s":"T4","e":"Sr","v":31},{"g":"T","s":"T4","e":"P","v":6.8},{"g":"T","s":"T4","e":"Nd","v":18},{"g":"T","s":"T4","e":"Zr","v":9.5},{"g":"T","s":"T4","e":"Sm","v":8.2},{"g":"T","s":"T4","e":"Eu","v":6.8},{"g":"T","s":"T4","e":"Gd","v":5.3},{"g":"T","s":"T4","e":"Ti","v":1.45},{"g":"T","s":"T4","e":"Dy","v":3.8},{"g":"T","s":"T4","e":"Y","v":3.5},{"g":"T","s":"T4","e":"Er","v":3.6},{"g":"T","s":"T4","e":"Yb","v":3.9}
]},
"encoding": {
  "x": {"field": "e", "type": "nominal",
    "scale": {"type": "point", "padding": 0.95, "domain": ["Cs","Rb","Ba","Th","U","Nb","Ta","K","La","Ce","Pb","Pr","Sr","P","Nd","Zr","Sm","Eu","Gd","Ti","Dy","Y","Er","Yb"]},
    "axis": {"title": null, "labelAngle": 0, "labelFontSize": 35, "labelBaseline": "top", "labelAlign": "center", "labelPadding": 12, "labelLineHeight": 38, "labelDx": 9, "tickSize": 9, "labelOverlap": false, "labelFlush": false, "labelBound": false, "labelColor": "#111111",
      "labelExpr": "indexof(['Rb','Th','Nb','K','Ce','Pr','P','Zr','Eu','Ti','Y','Yb'], datum.value) >= 0 ? ['', datum.value] : datum.value"}},
  "y": {"field": "v", "type": "quantitative",
    "scale": {"type": "log", "domain": [0.1, 1000], "nice": false},
    "axis": {"title": "Rock / Primitive Mantle", "titleFontSize": 33, "titlePadding": 14, "values": [0.1, 1, 10, 100, 1000], "format": ".1~f", "labelFontSize": 27, "tickSize": 8, "labelPadding": 8}}
},
"layer": [
  {"transform": [{"filter": "datum.g == 'A' || datum.g == 'V'"}],
   "mark": {"type": "line", "strokeWidth": 1, "opacity": 0.55},
   "encoding": {
     "detail": {"field": "s", "type": "nominal"},
     "color": {"field": "g", "type": "nominal",
       "scale": {"domain": ["A", "V"], "range": ["#a9a9a9", "#4a4a4a"]},
       "legend": {"title": null, "orient": "none", "legendX": 257, "legendY": 598, "direction": "vertical", "symbolType": "stroke", "symbolSize": 8281, "symbolStrokeWidth": 3, "symbolOpacity": 1, "clipHeight": 11, "labelOffset": 15, "labelFontSize": 28, "labelBaseline": "alphabetic", "labelLimit": 0, "padding": 0, "rowPadding": 0,
         "labelExpr": "datum.value == 'A' ? 'Adamello rocks' : 'VF granitoids (SiO₂ > 56 wt%)'"}}
   }},
  {"transform": [{"filter": "datum.g == 'A'"}],
   "mark": {"type": "point", "filled": true, "size": 9, "color": "#b8b8b8", "opacity": 0.9}},
  {"transform": [{"filter": "datum.g == 'V'"}],
   "mark": {"type": "point", "filled": true, "size": 12, "color": "#555555", "opacity": 0.9}},
  {"transform": [{"filter": "indexof(['E','T','B','M','O'], datum.g) >= 0"}],
   "mark": {"type": "line", "strokeWidth": 2},
   "encoding": {
     "detail": {"field": "s", "type": "nominal"},
     "color": {"field": "g", "type": "nominal",
       "scale": {"domain": ["E", "T", "B", "M", "O"], "range": ["#3159a8", "#c8242f", "#f2ac2e", "#2a8c3c", "#3aa889"]},
       "legend": {"title": null, "orient": "none", "legendX": 40, "legendY": 515.2, "direction": "vertical", "symbolType": "stroke", "symbolSize": 7225, "symbolStrokeWidth": 3, "symbolOpacity": 1, "clipHeight": 11, "labelOffset": 23, "labelFontSize": 28, "labelBaseline": "alphabetic", "labelLimit": 0, "padding": 0, "rowPadding": 0,
         "labelExpr": "datum.value == 'E' ? 'ETN - PTN' : datum.value == 'T' ? 'TMG' : datum.value == 'B' ? 'EBG' : datum.value == 'M' ? 'MDR' : 'OTN'"}},
     "strokeDash": {"field": "g", "type": "nominal",
       "scale": {"domain": ["E", "T", "B", "M", "O"], "range": [[1, 0], [1, 0], [1, 0], [1, 0], [7, 5]]},
       "legend": {"title": null, "orient": "none", "legendX": 40, "legendY": 515.2, "direction": "vertical", "symbolType": "stroke", "symbolSize": 7225, "symbolStrokeWidth": 3, "symbolOpacity": 1, "clipHeight": 11, "labelOffset": 23, "labelFontSize": 28, "labelBaseline": "alphabetic", "labelLimit": 0, "padding": 0, "rowPadding": 0,
         "labelExpr": "datum.value == 'E' ? 'ETN - PTN' : datum.value == 'T' ? 'TMG' : datum.value == 'B' ? 'EBG' : datum.value == 'M' ? 'MDR' : 'OTN'"}}
   }}
],
"resolve": {"scale": {"color": "independent"}}
}
